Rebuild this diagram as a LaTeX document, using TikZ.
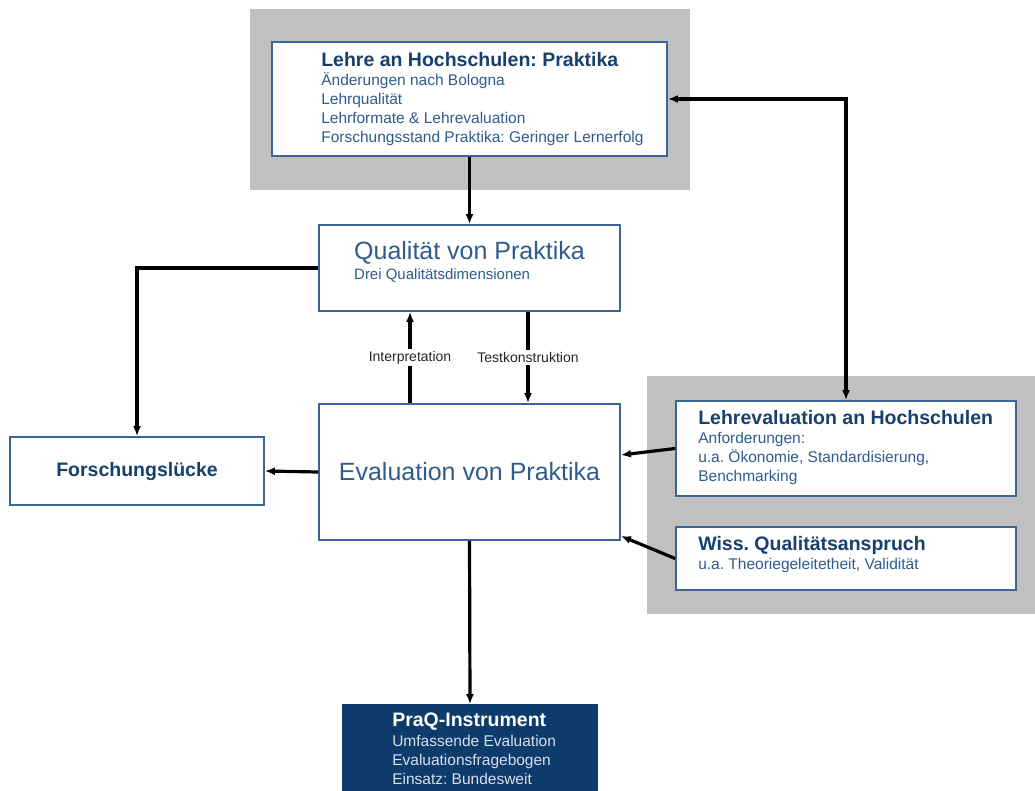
\documentclass[tikz,border=0pt]{standalone}
\usepackage{fontspec}
\setmainfont{Liberation Sans}
\usetikzlibrary{arrows.meta}
\definecolor{FrameBlue}{HTML}{3A6596}
\definecolor{TitleBlue}{HTML}{17406D}
\definecolor{TextBlue}{HTML}{2F5C8F}
\definecolor{PanelGray}{HTML}{C0C0C0}
\definecolor{DarkBlue}{HTML}{0D3B6C}
\newcommand{\Unit}{1pt}
\newcommand{\Head}[1]{{\fontsize{19.5}{22}\selectfont\bfseries\color{TitleBlue}#1}}
\tikzset{Frame/.style={
    inner sep=0pt,
    draw=FrameBlue,
    line width=1.8pt,
    fill=white,
    align=left,
    text=TextBlue,
    font=\fontsize{15.5}{19}\selectfont\frenchspacing,
    },
    Inside/.style={inner sep=0pt, align=left, text=TextBlue,
    font=\fontsize{15.5}{19}\selectfont\frenchspacing},
    Link/.style={line width=3.2pt, -{Latex[length=10pt,width=8pt]}},
    Caption/.style={fill=white, inner sep=2pt, text=black!85, font=\fontsize{14}{16}\selectfont},
}

\begin{document}
\begin{tikzpicture}[x=\Unit, y=-\Unit]
    \useasboundingbox (0,0) rectangle (1035,791);
    \fill[PanelGray] (250,9) rectangle (690,190);
    \fill[PanelGray] (647,376) rectangle (1035,614);
    \node [Frame, minimum width=395, minimum height=114] (lehre) at (469.5,99) {};
    \node [Inside, anchor=west] (lehretext) at ([xshift=50pt]lehre.west)
        {\Head{Lehre an Hochschulen: Praktika}\\ \"Anderungen nach Bologna\\ Lehrqualit\"at\\
         Lehrformate \& Lehrevaluation\\ Forschungsstand Praktika: Geringer Lernerfolg};
    \node [Frame, minimum width=301, minimum height=86] (qual) at (469.5,268) {};
    \node [Inside, anchor=north] (qualtext) at ([yshift=-17pt]qual.north)
        {{\fontsize{25}{28}\selectfont Qualit\"at von Praktika}\\[1pt] {\fontsize{15}{18}\selectfont Drei Qualit\"atsdimensionen}};
    \node [Frame, minimum width=301, minimum height=136] (eval) at (469.5,472)
        {\fontsize{25}{28}\selectfont Evaluation von Praktika};
    \node [Frame, minimum width=254, minimum height=68] (luecke) at (137,471)
        {\Head{Forschungsl\"ucke}};
    \node [Frame, minimum width=340, minimum height=95] (lehreval) at (846,448.5) {};
    \node [Inside, anchor=west] (lehrevaltext) at ([xshift=23pt, yshift=1pt]lehreval.west)
        {\Head{Lehrevaluation an Hochschulen}\\ Anforderungen:\\ u.a. \"Okonomie, Standardisierung,\\ Benchmarking};
    \node [Frame, minimum width=340, minimum height=63] (wiss) at (846,558.5) {};
    \node [Inside, anchor=west] (wisstext) at ([xshift=23pt, yshift=4pt]wiss.west)
        {\Head{Wiss. Qualit\"atsanspruch}\\ u.a. Theoriegeleitetheit, Validit\"at};
    \node [Frame, draw=DarkBlue, fill=DarkBlue, minimum width=254, minimum height=86] (praq) at (470,748) {};
    \node [Inside, anchor=west, text=white!80!FrameBlue] (praqtext) at ([xshift=50pt, yshift=-1pt]praq.west)
        {{\fontsize{19.5}{22}\selectfont\bfseries\color{white}PraQ-Instrument}\\[1pt] Umfassende Evaluation\\ Evaluationsfragebogen\\ Einsatz: Bundesweit};
    % connectors
    \draw [Link] (lehre.south) -- (qual.north);
    \draw [Link] (qual.west) -| (luecke.north);
    \draw [Link] ([xshift=-59.5pt]eval.north) -- node [Caption] (interp) {Interpretation} ([xshift=-59.5pt]qual.south);
    \draw [Link] ([xshift=58.5pt]qual.south) -- node [Caption] (testk) {Testkonstruktion} ([xshift=58.5pt]eval.north);
    \draw [Link] (eval.west) -- (luecke.east);
    \draw [Link] (lehreval.west) -- ([yshift=17pt]eval.east);
    \draw [Link] (wiss.west) -- ([yshift=-64pt]eval.east);
    \draw [Link, {Latex[length=10pt,width=8pt]}-{Latex[length=10pt,width=8pt]}] (lehre.east) -| (lehreval.north);
    \draw [Link] (eval.south) -- (praq.north);
\end{tikzpicture}
\end{document}
